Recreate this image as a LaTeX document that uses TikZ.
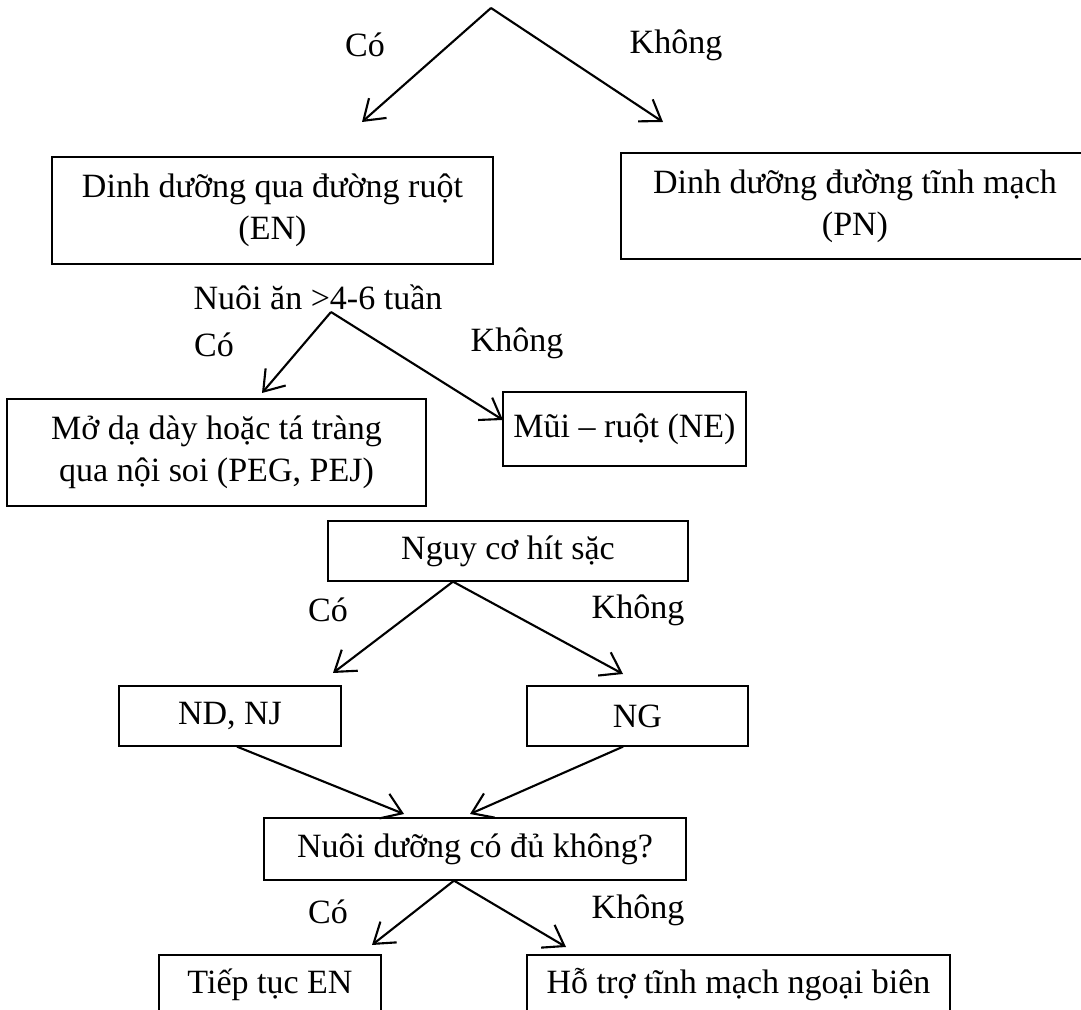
\documentclass[tikz,border=0pt]{standalone}
\usepackage{fontspec}
\setmainfont{Liberation Serif}
\usetikzlibrary{arrows.meta}

\begin{document}
\begin{tikzpicture}[
      x=0.025cm, y=-0.025cm,
      every node/.style={font=\fontsize{24.2}{30}\selectfont},
      box/.style={
        draw, line width=0.9pt, align=center, inner sep=0pt
      },
      lbl/.style={inner sep=0pt},
      rel/.style={-{Straight Barb[length=4.8mm, width=6.6mm]}, line width=1.5pt}
    ]
    \useasboundingbox (0,0) rectangle (1081,1010);
    \clip (0,0) rectangle (1081,1010);

    \node[box, minimum width=11.025cm, minimum height=2.675cm] (en) at (272.5,210.5) {
      Dinh dưỡng qua đường ruột\\(EN)
    };
    \node[box, minimum width=11.7cm, minimum height=2.65cm] (pn) at (855,206) {
      Dinh dưỡng đường tĩnh mạch\\(PN)
    };
    \node[lbl] (feed) at (318,297) {Nuôi ăn >4-6 tuần};
    \node[box, minimum width=10.475cm, minimum height=2.675cm] (peg) at (216.5,452.5) {
      Mở dạ dày hoặc tá tràng\\qua nội soi (PEG, PEJ)
    };
    \node[box, minimum width=6.075cm, minimum height=1.85cm] (ne) at (624.5,429) {Mũi – ruột (NE)};
    \node[box, minimum width=9cm, minimum height=1.5cm] (risk) at (508,551) {Nguy cơ hít sặc};
    \node[box, minimum width=5.55cm, minimum height=1.5cm] (ndnj) at (230,716) {ND, NJ};
    \node[box, minimum width=5.525cm, minimum height=1.5cm] (ng) at (637.5,716) {NG};
    \node[box, minimum width=10.55cm, minimum height=1.55cm] (enough) at (475,849) {Nuôi dưỡng có đủ không?};
    \node[box, minimum width=5.55cm, minimum height=1.5cm] (keep) at (270,985) {Tiếp tục EN};
    \node[box, minimum width=10.575cm, minimum height=1.5cm] (iv) at (738.5,985) {Hỗ trợ tĩnh mạch ngoại biên};

    \node[lbl] (yes1) at (365,45) {Có};
    \node[lbl] (no1) at (676,45) {Không};
    \node[lbl] (yes2) at (214,345) {Có};
    \node[lbl] (no2) at (517,343) {Không};
    \node[lbl] (yes3) at (328,610) {Có};
    \node[lbl] (no3) at (638,610) {Không};
    \node[lbl] (yes4) at (328,912) {Có};
    \node[lbl] (no4) at (638,910) {Không};

    \coordinate (start) at (491,8);
    \coordinate (toen) at (362,122);
    \coordinate (topn) at (663,122);
    \coordinate (split) at (331,312);
    \coordinate (topeg) at (262,393);
    \coordinate (tone) at (503,420);
    \coordinate (tondnj) at (333,673);
    \coordinate (tong) at (623,674);
    \coordinate (inleft) at (404,814);
    \coordinate (inright) at (470,814);
    \coordinate (tokeep) at (372,945);
    \coordinate (toiv) at (566,947);

    \draw[rel] (start) -- (toen);
    \draw[rel] (start) -- (topn);
    \draw[rel] (split) -- (topeg);
    \draw[rel] (split) -- (tone);
    \draw[rel] ([xshift=-1.375cm]risk.south) -- (tondnj);
    \draw[rel] ([xshift=-1.375cm]risk.south) -- (tong);
    \draw[rel] ([xshift=0.175cm]ndnj.south) -- (inleft);
    \draw[rel] ([xshift=-0.36cm]ng.south) -- (inright);
    \draw[rel] ([xshift=-0.525cm]enough.south) -- (tokeep);
    \draw[rel] ([xshift=-0.525cm]enough.south) -- (toiv);
  \end{tikzpicture}
\end{document}
